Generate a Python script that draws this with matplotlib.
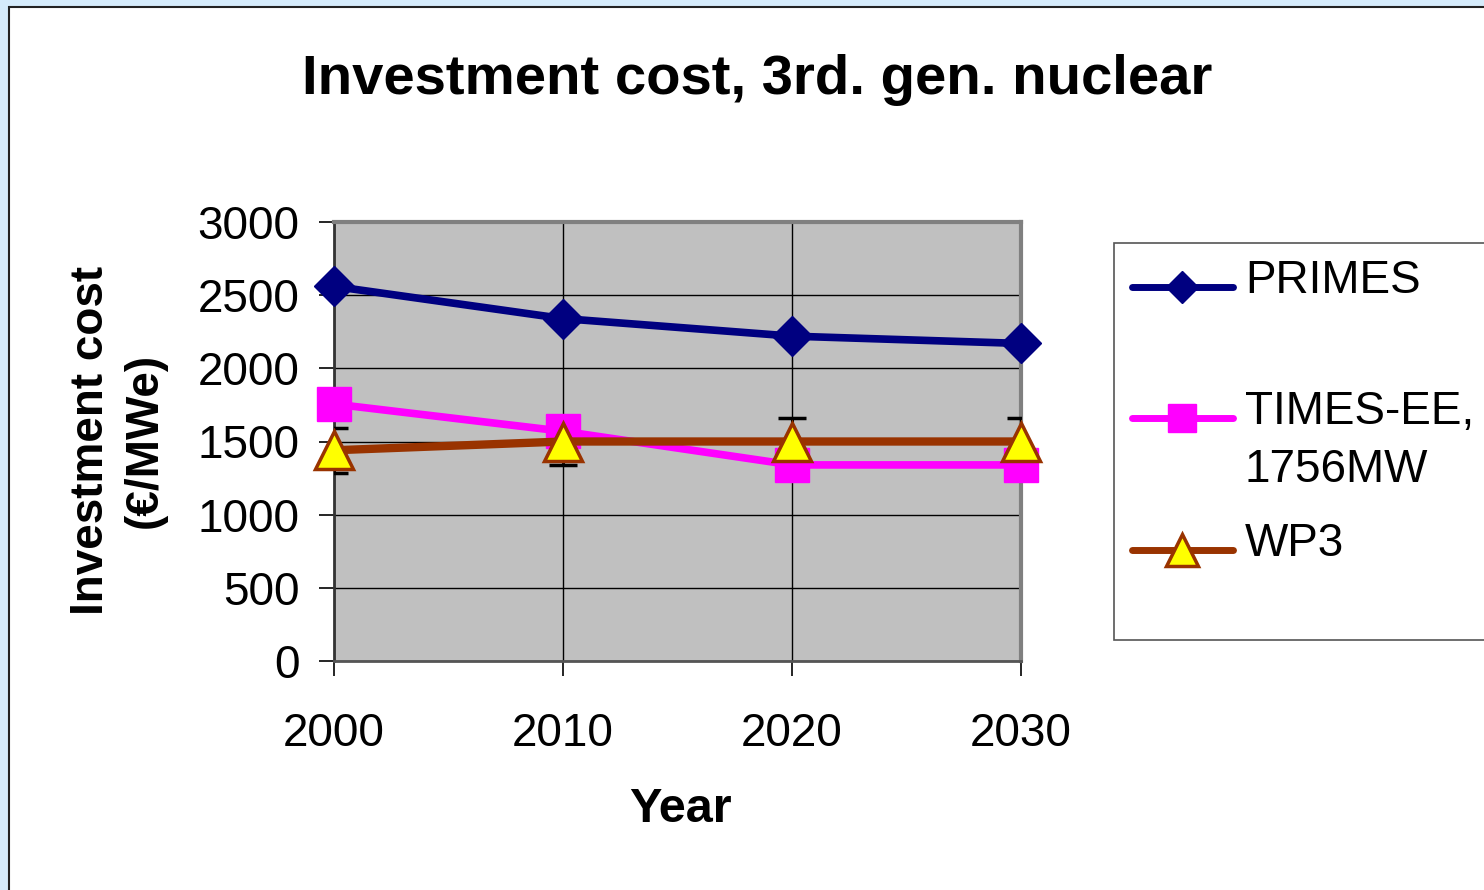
import matplotlib.pyplot as plt
from matplotlib.lines import Line2D
from matplotlib.patches import Rectangle

plt.rcParams['font.family'] = ['Liberation Sans', 'DejaVu Sans']

# Data
years = [2000, 2010, 2020, 2030]
primes = [2560, 2340, 2220, 2170]
times_ee = [1756, 1570, 1340, 1340]
wp3 = [1440, 1500, 1500, 1500]
wp3_err = [155, 160, 160, 160]
yticks = [0, 500, 1000, 1500, 2000, 2500, 3000]

fig = plt.figure(figsize=(14.84, 8.90), dpi=100)
fig.patch.set_facecolor('#D5EBFB')

# white chart panel with dark border
fig.patches.append(Rectangle((9 / 1484, -0.1), 1.2, (890 - 7) / 890 + 0.1,
                             transform=fig.transFigure, facecolor='white',
                             edgecolor='#222222', linewidth=1.5, zorder=-2))

ax = fig.add_axes([334 / 1484, 1 - 661 / 890, (1021 - 334) / 1484, (661 - 222) / 890])
ax.set_zorder(2)
ax.set_facecolor('#C0C0C0')

# error bars under the markers
ax.errorbar(years, wp3, yerr=wp3_err, fmt='none', ecolor='black',
            elinewidth=2.2, capsize=10, capthick=2.5, zorder=3)
ax.plot(years, times_ee, color='#FF00FF', linewidth=5.5, marker='s',
        markersize=25, markerfacecolor='#FF00FF', markeredgecolor='#FF00FF',
        zorder=4, clip_on=False)
ax.plot(years, wp3, color='#993300', linewidth=6, marker='^',
        markersize=28, markerfacecolor='#FFFF00', markeredgecolor='#993300',
        markeredgewidth=2.5, zorder=5, clip_on=False)
ax.plot(years, primes, color='#000080', linewidth=5.5, marker='D',
        markersize=20, markerfacecolor='#000080', markeredgecolor='#000080',
        zorder=6, clip_on=False)

ax.set_xlim(2000, 2030)
ax.set_ylim(0, 3000)
ax.set_xticks(years)
ax.set_yticks(yticks)
ax.grid(True, color='black', linewidth=1)
ax.set_axisbelow(True)
ax.tick_params(axis='both', direction='out', length=11, width=1.2,
               color='black', labelsize=33)
ax.tick_params(axis='y', pad=14)
ax.tick_params(axis='x', pad=26)

for side in ['top', 'right']:
    ax.spines[side].set_color('#808080')
    ax.spines[side].set_linewidth(3)
ax.spines['left'].set_color('#333333')
ax.spines['left'].set_linewidth(2)
ax.spines['bottom'].set_color('#555555')
ax.spines['bottom'].set_linewidth(2)

fig.text(757 / 1484, 1 - 80 / 890, 'Investment cost, 3rd. gen. nuclear',
         ha='center', va='center', fontsize=40.5, fontweight='bold')
fig.text(680 / 1484, 1 - 810 / 890, 'Year', ha='center', va='center',
         fontsize=35, fontweight='bold')
fig.text(118 / 1484, 1 - 440 / 890, 'Investment cost\n(€/MWe)', ha='center',
         va='center', rotation=90, fontsize=33, fontweight='bold',
         linespacing=1.3)

# legend box, drawn by hand to match the layout
fig.patches.append(Rectangle((1114 / 1484, 1 - 640 / 890), 0.5, (640 - 243) / 890,
                             transform=fig.transFigure, facecolor='white',
                             edgecolor='#555555', linewidth=1.2, zorder=1))
legend_items = [
    ('PRIMES', 287, dict(color='#000080', marker='D', markersize=16,
                         markerfacecolor='#000080', markeredgecolor='#000080')),
    ('TIMES-EE,\n1756MW', 418, dict(color='#FF00FF', marker='s', markersize=20,
                                    markerfacecolor='#FF00FF', markeredgecolor='#FF00FF')),
    ('WP3', 550, dict(color='#993300', marker='^', markersize=23,
                      markerfacecolor='#FFFF00', markeredgecolor='#993300',
                      markeredgewidth=2.5)),
]
for label, ypix, style in legend_items:
    yf = 1 - ypix / 890
    fig.lines.append(Line2D([1132 / 1484, 1233 / 1484], [yf, yf],
                            transform=fig.transFigure, linewidth=5,
                            solid_capstyle='round', zorder=3, markevery=[], **style))
    fig.lines.append(Line2D([1182 / 1484], [yf], transform=fig.transFigure,
                            linestyle='none', zorder=4, **style))
    # first text line centred on the handle
    fig.text(1245 / 1484, yf + 28 / 890, label, ha='left', va='top',
             fontsize=33, linespacing=1.4, zorder=4)

fig.savefig('out.png', dpi=100, facecolor=fig.get_facecolor())
